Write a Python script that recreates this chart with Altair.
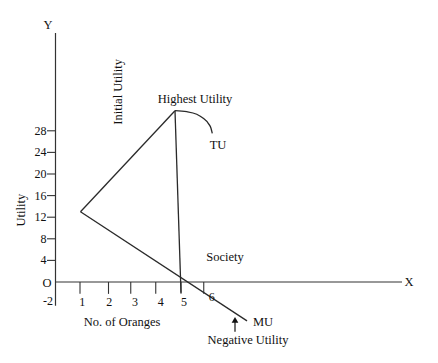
import altair as alt
import pandas as pd

# ---- data (x in "oranges", y in "utility") ----
rise_x = [1.0, 4.78]
rise_y = [13.0, 31.72]

arc_x = [4.78, 5.25, 5.65, 5.91, 6.11, 6.22, 6.27]
arc_y = [31.72, 31.54, 31.06, 30.31, 29.39, 28.46, 27.54]

drop_x = [4.78, 5.02]
drop_y = [31.72, -2.0]

mu_x = [1.0, 7.66]
mu_y = [13.0, -7.2]

y_ticks = [4, 8, 12, 16, 20, 24, 28]
x_tick_pos = [0.98, 2.12, 3.01, 4.01, 5.02, 5.93]
x_tick_labels = ["1", "2", "3", "4", "5", "6"]
x_label_x = [1.07, 2.15, 3.18, 4.21, 5.14, 6.25]
x_label_y = [-3.65, -3.65, -3.65, -3.65, -3.65, -2.7]

annot_text = ["Y", "X", "O", "Highest Utility", "TU", "Society",
              "No. of Oranges", "MU", "Negative Utility"]
annot_x = [-0.3, 14.14, -0.34, 5.58, 6.5, 6.78, 2.66, 8.3, 7.7]
annot_y = [47.6, 0.0, -0.1, 33.9, 25.4, 4.7, -7.5, -7.4, -10.8]

rot_text = ["Initial Utility", "Utility"]
rot_x = [2.5, -1.39]
rot_y = [35.2, 13.3]

W, H = 422, 347
xs = alt.Scale(domain=[-1.9, 14.98], nice=False, zero=False)
ys = alt.Scale(domain=[-13.52, 50.74], nice=False, zero=False)
FONT = "Liberation Serif"
INK = "#111111"
LINE = "#2a2a2a"

def X(f="x"):
    return alt.X(f"{f}:Q", scale=xs, axis=None)

def Y(f="y"):
    return alt.Y(f"{f}:Q", scale=ys, axis=None)

# straight segments
segs = pd.DataFrame(
    [{"x": a, "y": b, "o": i, "g": "rise"} for i, (a, b) in enumerate(zip(rise_x, rise_y))]
    + [{"x": a, "y": b, "o": i, "g": "drop"} for i, (a, b) in enumerate(zip(drop_x, drop_y))]
    + [{"x": a, "y": b, "o": i, "g": "MU"} for i, (a, b) in enumerate(zip(mu_x, mu_y))]
)
straight = alt.Chart(segs).mark_line(color=LINE, strokeWidth=1.3).encode(
    x=X(), y=Y(), detail="g:N", order="o:Q")

arc = pd.DataFrame({"x": arc_x, "y": arc_y, "o": list(range(len(arc_x)))})
arc_line = alt.Chart(arc).mark_line(color=LINE, strokeWidth=1.3, interpolate="monotone").encode(
    x=X(), y=Y(), order="o:Q")

# axes lines
axes = pd.DataFrame([
    {"x": 0, "x2": 0, "y": -4.4, "y2": 46.1},
    {"x": 0, "x2": 13.86, "y": 0, "y2": 0},
])
axis_rules = alt.Chart(axes).mark_rule(color="#333333", strokeWidth=1.2).encode(
    x=X(), x2="x2:Q", y=Y(), y2="y2:Q")

# y ticks
yt = pd.DataFrame({"y": y_ticks, "x": [-0.34] * len(y_ticks), "x2": [0] * len(y_ticks),
                   "lab": [str(v) for v in y_ticks], "lx": [-0.36] * len(y_ticks)})
ytick_rules = alt.Chart(yt).mark_rule(color="#333333", strokeWidth=1.1).encode(
    x=X(), x2="x2:Q", y=Y())
ytick_text = alt.Chart(yt).mark_text(align="right", baseline="middle", font=FONT,
                                     fontSize=12, color=INK).encode(
    x=X("lx"), y=Y(), text="lab:N")
neg2 = alt.Chart(pd.DataFrame({"x": [-0.1], "y": [-3.6], "t": ["-2"]})).mark_text(
    align="right", baseline="middle", font=FONT, fontSize=12, color=INK).encode(
    x=X(), y=Y(), text="t:N")

# x ticks
xt = pd.DataFrame({"x": x_tick_pos, "y": [0] * 6, "y2": [-2.2] * 6})
xtick_rules = alt.Chart(xt).mark_rule(color="#333333", strokeWidth=1.1).encode(
    x=X(), y=Y(), y2="y2:Q")
xl = pd.DataFrame({"x": x_label_x, "y": x_label_y, "t": x_tick_labels})
xtick_text = alt.Chart(xl).mark_text(align="center", baseline="middle", font=FONT,
                                     fontSize=12, color=INK).encode(
    x=X(), y=Y(), text="t:N")

# annotations
ann = pd.DataFrame({"x": annot_x, "y": annot_y, "t": annot_text})
ann_text = alt.Chart(ann).mark_text(align="center", baseline="middle", font=FONT,
                                    fontSize=12.5, color=INK).encode(
    x=X(), y=Y(), text="t:N")
rot = pd.DataFrame({"x": rot_x, "y": rot_y, "t": rot_text})
rot_marks = alt.Chart(rot).mark_text(align="center", baseline="middle", font=FONT,
                                     fontSize=12.5, angle=270, color=INK).encode(
    x=X(), y=Y(), text="t:N")

# arrow for negative utility
arrow_shaft = alt.Chart(pd.DataFrame({"x": [7.18], "y": [-9.2], "y2": [-7.2]})).mark_rule(
    color=INK, strokeWidth=1.2).encode(x=X(), y=Y(), y2="y2:Q")
arrow_head = alt.Chart(pd.DataFrame({"x": [7.18], "y": [-7.0]})).mark_point(
    shape="triangle-up", filled=True, color=INK, size=45, opacity=1).encode(x=X(), y=Y())

chart = alt.layer(
    axis_rules, ytick_rules, xtick_rules, straight, arc_line, ytick_text, neg2, xtick_text,
    ann_text, rot_marks, arrow_shaft, arrow_head
).properties(
    width=W, height=H, padding=0,
    autosize=alt.AutoSizeParams(type="none"),
    background="white",
).configure_view(stroke=None)

chart.save("out.html", embed_options={"renderer": "svg", "actions": False})
